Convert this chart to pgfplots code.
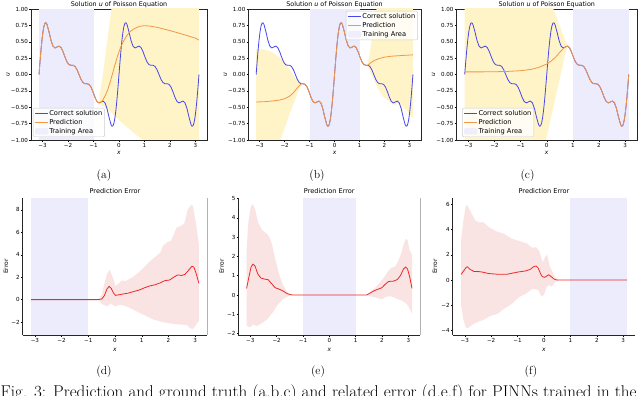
\documentclass[border=0pt]{standalone}
\usepackage{fontspec}
\usepackage{pgfplots}
\pgfplotsset{compat=1.18}
\usepackage{pgfplotstable}
\newfontfamily\dv{DejaVu Sans}
\definecolor{lav}{RGB}{236,236,252}
\definecolor{yel}{RGB}{255,243,200}
\definecolor{pinkb}{RGB}{250,227,227}
\definecolor{blu}{RGB}{70,70,235}
\definecolor{ora}{RGB}{243,150,70}
\definecolor{redl}{RGB}{238,40,40}

\pgfplotstableread{
x u
-3.1416 0
-3.1023 0.1942
-3.0631 0.3753
-3.0238 0.5320
-2.9845 0.6552
-2.9453 0.7395
-2.9060 0.7835
-2.8667 0.7895
-2.8274 0.7636
-2.7489 0.6507
-2.6704 0.5203
-2.5918 0.4321
-2.5133 0.4056
-2.4347 0.4198
-2.3562 0.4333
-2.2777 0.4123
-2.1991 0.3495
-2.1206 0.2654
-2.0420 0.1917
-1.9635 0.1507
-1.8850 0.1412
-1.8064 0.1412
-1.7279 0.1235
-1.6493 0.0739
-1.5708 0
-1.4923 -0.0739
-1.4137 -0.1235
-1.3352 -0.1412
-1.2566 -0.1412
-1.1781 -0.1507
-1.0996 -0.1917
-1.0210 -0.2654
-0.9425 -0.3495
-0.8639 -0.4123
-0.7854 -0.4333
-0.7069 -0.4198
-0.6283 -0.4056
-0.5498 -0.4321
-0.4712 -0.5203
-0.3927 -0.6507
-0.3142 -0.7636
-0.2749 -0.7895
-0.2356 -0.7835
-0.1963 -0.7395
-0.1571 -0.6552
-0.1178 -0.5320
-0.0785 -0.3753
-0.0393 -0.1942
0 0
0.0393 0.1942
0.0785 0.3753
0.1178 0.5320
0.1571 0.6552
0.1963 0.7395
0.2356 0.7835
0.2749 0.7895
0.3142 0.7636
0.3927 0.6507
0.4712 0.5203
0.5498 0.4321
0.6283 0.4056
0.7069 0.4198
0.7854 0.4333
0.8639 0.4123
0.9425 0.3495
1.0210 0.2654
1.0996 0.1917
1.1781 0.1507
1.2566 0.1412
1.3352 0.1412
1.4137 0.1235
1.4923 0.0739
1.5708 0
1.6493 -0.0739
1.7279 -0.1235
1.8064 -0.1412
1.8850 -0.1412
1.9635 -0.1507
2.0420 -0.1917
2.1206 -0.2654
2.1991 -0.3495
2.2777 -0.4123
2.3562 -0.4333
2.4347 -0.4198
2.5133 -0.4056
2.5918 -0.4321
2.6704 -0.5203
2.7489 -0.6507
2.8274 -0.7636
2.8667 -0.7895
2.9060 -0.7835
2.9453 -0.7395
2.9845 -0.6552
3.0238 -0.5320
3.0631 -0.3753
3.1023 -0.1942
3.1416 0
}\truesol

\pgfplotsset{
  myline/.style={legend image code/.code={\draw[##1] (0bp,0bp) -- (13bp,0bp);}},
  myarea/.style={legend image code/.code={\fill[##1] (0bp,-2.8bp) rectangle (13bp,2.8bp);}},
  base/.style={scale only axis, xmin=-3.456, xmax=3.456,
    xtick={-3,-2,-1,0,1,2,3}, xticklabels={−3,−2,−1,0,1,2,3},
    tick align=outside, tick pos=left, major tick length=1.8bp,
    tick style={black, line width=0.4bp},
    axis line style={-, black!85, line width=0.45bp},
    ticklabel style={font=\dv\fontsize{5.6}{6.5}\selectfont},
    xticklabel style={inner sep=1bp}, yticklabel style={inner sep=1bp},
    every axis title shift=0pt,
    title style={font=\dv\fontsize{6.4}{7.5}\selectfont, at={(0.5,1)}, anchor=base, yshift=2bp, inner sep=0pt},
    label style={font=\dv\fontsize{6}{7}\selectfont},
    xlabel={\itshape x},
    xlabel style={at={(axis description cs:0.5,0)}, anchor=center, yshift=-13bp},
  },
  top/.style={base, height=131bp, ymin=-1, ymax=1,
    ytick={-1,-0.75,-0.5,-0.25,0,0.25,0.5,0.75,1},
    yticklabels={−1.00,−0.75,−0.50,−0.25,0.00,0.25,0.50,0.75,1.00},
    title={Solution {\itshape u} of Poisson Equation}, ylabel={\itshape u},
    legend cell align=left,
    legend style={font=\dv\fontsize{6.7}{7.5}\selectfont, draw=black!20, line width=0.4bp,
      rounded corners=1.2bp, fill=white, fill opacity=0.8, text opacity=1,
      inner xsep=1.5bp, inner ysep=1.2bp, row sep=0.6bp, nodes={inner sep=0.9bp}},
  },
  bot/.style={base, height=137bp, axis x line*=bottom, axis y line*=left,
    tick align=outside, tick pos=left,
    title={Prediction Error}, ylabel={Error},
    title style={font=\dv\fontsize{6.6}{7.5}\selectfont, yshift=2.5bp},
    xlabel style={yshift=-2bp},
  },
}

\begin{document}
\begin{tikzpicture}
\useasboundingbox (0bp,0bp) rectangle (640bp,396bp);

% ---------------- (a)
\begin{axis}[top, at={(31bp,256bp)}, anchor=south west, width=176bp,
  ylabel style={at={(axis description cs:-0.13,0.5)}, anchor=center},
  legend style={at={(0.011,0.023)}, anchor=south west}]
\addlegendimage{myline, blu, line width=0.8bp}\addlegendentry{Correct solution}
\addlegendimage{myline, ora, line width=0.8bp}\addlegendentry{Prediction}
\addlegendimage{myarea, lav}\addlegendentry{Training Area}
\addplot[forget plot, fill=lav, draw=none] coordinates {(-3.1416,-1) (-1,-1) (-1,1) (-3.1416,1)} -- cycle;
\addplot[forget plot, fill=yel, draw=none] coordinates {
(-0.8,-0.43) (-0.7,-0.18) (-0.6,0.1) (-0.5,0.4) (-0.4,0.7) (-0.3,1.0) (-0.2,1.3) (3.1416,1.5)
(3.1416,-1.5) (1.2,-1.1) (0.95,-1.0) (0.7,-0.93) (0.4,-0.83) (0.1,-0.73) (-0.2,-0.62) (-0.5,-0.52)} -- cycle;
\addplot[forget plot, blu, line width=0.8bp] table[x=x,y=u] {\truesol};
\addplot[forget plot, ora, line width=0.8bp] coordinates {
(-3.1416,0) (-3.1023,0.1942) (-3.0631,0.3753) (-3.0238,0.5320) (-2.9845,0.6552) (-2.9453,0.7395)
(-2.9060,0.7835) (-2.8667,0.7895) (-2.8274,0.7636) (-2.7489,0.6507) (-2.6704,0.5203) (-2.5918,0.4321)
(-2.5133,0.4056) (-2.4347,0.4198) (-2.3562,0.4333) (-2.2777,0.4123) (-2.1991,0.3495) (-2.1206,0.2654)
(-2.0420,0.1917) (-1.9635,0.1507) (-1.8850,0.1412) (-1.8064,0.1412) (-1.7279,0.1235) (-1.6493,0.0739)
(-1.5708,0) (-1.4923,-0.0739) (-1.4137,-0.1235) (-1.3352,-0.1412) (-1.2566,-0.1412) (-1.1781,-0.1507)
(-1.0996,-0.1917) (-1.0210,-0.2654) (-0.9425,-0.3495) (-0.8639,-0.4123) (-0.7854,-0.4333)
(-0.72,-0.425) (-0.65,-0.40) (-0.55,-0.33) (-0.45,-0.24) (-0.35,-0.12) (-0.25,0.02) (-0.15,0.16)
(-0.05,0.29) (0.05,0.40) (0.15,0.49) (0.3,0.59) (0.45,0.66) (0.6,0.70) (0.8,0.735) (1.0,0.745)
(1.2,0.74) (1.5,0.72) (2.0,0.67) (2.5,0.615) (3.0,0.555) (3.1416,0.525)};
\end{axis}

% ---------------- (b)
\begin{axis}[top, at={(248.3bp,256bp)}, anchor=south west, width=172.5bp,
  ylabel style={at={(axis description cs:-0.133,0.5)}, anchor=center},
  legend style={at={(0.983,0.985)}, anchor=north east}]
\addlegendimage{myline, blu, line width=0.8bp}\addlegendentry{Correct solution}
\addlegendimage{myline, ora, line width=0.8bp}\addlegendentry{Prediction}
\addlegendimage{myarea, lav}\addlegendentry{Training Area}
\addplot[forget plot, fill=lav, draw=none] coordinates {(-1,-1) (1,-1) (1,1) (-1,1)} -- cycle;
\addplot[forget plot, fill=yel, draw=none] coordinates {
(-3.1416,0.38) (-3.0,0.39) (-2.8,0.38) (-2.5,0.34) (-2.2,0.26) (-2.0,0.18) (-1.8,0.08) (-1.6,-0.04)
(-1.45,-0.1) (-1.3,-0.14) (-1.45,-0.25) (-1.6,-0.4) (-1.8,-0.6) (-2.0,-0.82) (-2.2,-1.02) (-2.5,-1.4)
(-3.1416,-2.0)} -- cycle;
\addplot[forget plot, fill=yel, draw=none] coordinates {
(1.3,0.13) (1.4,0.3) (1.5,0.55) (1.6,0.8) (1.7,1.05) (1.8,1.3) (3.1416,1.5) (3.1416,-0.66)
(3.0,-0.6) (2.9,-0.55) (2.75,-0.5) (2.6,-0.45) (2.45,-0.46) (2.3,-0.45) (2.15,-0.4) (1.95,-0.34)
(1.75,-0.22) (1.55,-0.06) (1.4,0.06)} -- cycle;
\addplot[forget plot, blu, line width=0.8bp] table[x=x,y=u] {\truesol};
\addplot[forget plot, ora, line width=0.8bp] coordinates {
(-3.1416,-0.42) (-2.8,-0.415) (-2.5,-0.405) (-2.2,-0.39) (-2.0,-0.37) (-1.8,-0.33) (-1.65,-0.28)
(-1.5,-0.21) (-1.3352,-0.1412) (-1.2566,-0.1412) (-1.1781,-0.1507)
(-1.0996,-0.1917) (-1.0210,-0.2654) (-0.9425,-0.3495) (-0.8639,-0.4123) (-0.7854,-0.4333)
(-0.7069,-0.4198) (-0.6283,-0.4056) (-0.5498,-0.4321) (-0.4712,-0.5203) (-0.3927,-0.6507)
(-0.3142,-0.7636) (-0.2749,-0.7895) (-0.2356,-0.7835) (-0.1963,-0.7395) (-0.1571,-0.6552)
(-0.1178,-0.5320) (-0.0785,-0.3753) (-0.0393,-0.1942) (0,0) (0.0393,0.1942) (0.0785,0.3753)
(0.1178,0.5320) (0.1571,0.6552) (0.1963,0.7395) (0.2356,0.7835) (0.2749,0.7895) (0.3142,0.7636)
(0.3927,0.6507) (0.4712,0.5203) (0.5498,0.4321) (0.6283,0.4056) (0.7069,0.4198) (0.7854,0.4333)
(0.8639,0.4123) (0.9425,0.3495) (1.0210,0.2654) (1.0996,0.1917) (1.1781,0.1507) (1.2566,0.1412)
(1.3352,0.1412) (1.45,0.18) (1.6,0.215) (1.8,0.245) (2.0,0.265) (2.3,0.28) (2.7,0.29) (3.1416,0.30)};
\end{axis}

% ---------------- (c)
\begin{axis}[top, at={(456.5bp,256bp)}, anchor=south west, width=180.5bp,
  ylabel style={at={(axis description cs:-0.127,0.5)}, anchor=center},
  legend style={at={(0.031,0.023)}, anchor=south west}]
\addlegendimage{myline, blu, line width=0.8bp}\addlegendentry{Correct solution}
\addlegendimage{myline, ora, line width=0.8bp}\addlegendentry{Prediction}
\addlegendimage{myarea, lav}\addlegendentry{Training Area}
\addplot[forget plot, fill=lav, draw=none] coordinates {(1,-1) (3.1416,-1) (3.1416,1) (1,1)} -- cycle;
\addplot[forget plot, fill=yel, draw=none] coordinates {
(-3.1416,1.5) (0.15,1.5) (0.2,1.06) (0.3,0.95) (0.4,0.85) (0.5,0.74) (0.6,0.63) (0.7,0.52) (0.8,0.44)
(0.7,0.3) (0.6,0.12) (0.45,-0.15) (0.3,-0.42) (0.15,-0.68) (0,-0.95) (-0.1,-1.12) (-3.1416,-1.5)} -- cycle;
\addplot[forget plot, blu, line width=0.8bp] table[x=x,y=u] {\truesol};
\addplot[forget plot, ora, line width=0.8bp] coordinates {
(-3.1416,0.04) (-2.5,0.04) (-2.0,0.042) (-1.5,0.047) (-1.0,0.058) (-0.6,0.078) (-0.3,0.11) (0,0.16)
(0.2,0.215) (0.35,0.27) (0.5,0.34) (0.62,0.39) (0.7069,0.4198) (0.7854,0.4333)
(0.8639,0.4123) (0.9425,0.3495) (1.0210,0.2654) (1.0996,0.1917) (1.1781,0.1507) (1.2566,0.1412)
(1.3352,0.1412) (1.4137,0.1235) (1.4923,0.0739) (1.5708,0) (1.6493,-0.0739) (1.7279,-0.1235)
(1.8064,-0.1412) (1.8850,-0.1412) (1.9635,-0.1507) (2.0420,-0.1917) (2.1206,-0.2654) (2.1991,-0.3495)
(2.2777,-0.4123) (2.3562,-0.4333) (2.4347,-0.4198) (2.5133,-0.4056) (2.5918,-0.4321) (2.6704,-0.5203)
(2.7489,-0.6507) (2.8274,-0.7636) (2.8667,-0.7895) (2.9060,-0.7835) (2.9453,-0.7395) (2.9845,-0.6552)
(3.0238,-0.5320) (3.0631,-0.3753) (3.1023,-0.1942) (3.1416,0)};
\end{axis}

% ---------------- (d)
\begin{axis}[bot, at={(22.7bp,61bp)}, anchor=south west, width=184.6bp,
  ymin=-3.15, ymax=9.05, ytick={-2,0,2,4,6,8}, yticklabels={−2,0,2,4,6,8},
  ylabel style={at={(axis description cs:-0.09,0.5)}, anchor=center}]
\addplot[fill=lav, draw=none] coordinates {(-3.1416,-3.15) (-1,-3.15) (-1,9.05) (-3.1416,9.05)} -- cycle;
\addplot[fill=pinkb, draw=none] coordinates {
(-0.65,0) (-0.5,0.4) (-0.4,1.4) (-0.3,2.3) (-0.2,2.65) (-0.1,2.1) (0.02,1.2) (0.12,1.4) (0.25,1.7)
(0.4,1.65) (0.55,1.85) (0.7,2.05) (0.9,2.45) (1.1,2.9) (1.3,3.4) (1.5,3.8) (1.7,4.2) (1.8,4.8)
(1.95,5.1) (2.1,5.25) (2.2,5.8) (2.3,6.4) (2.45,6.55) (2.6,6.8) (2.72,8.0) (2.85,8.45) (2.92,8.35)
(3.03,6.8) (3.1416,4.9)
(3.1416,-1.9) (3.03,-2.25) (2.92,-2.62) (2.82,-2.55) (2.68,-2.25) (2.5,-2.23) (2.2,-2.17) (1.95,-2.08)
(1.7,-1.95) (1.45,-1.78) (1.2,-1.5) (0.9,-1.15) (0.65,-0.85) (0.4,-0.58) (0.2,-0.45) (0.0,-0.6)
(-0.15,-0.35) (-0.3,-0.6) (-0.45,-0.45)} -- cycle;
\addplot[redl, line width=0.8bp] coordinates {
(-3.1416,0) (-0.65,0) (-0.5,0.05) (-0.4,0.35) (-0.3,0.95) (-0.22,1.18) (-0.14,1.0) (-0.06,0.6)
(0.02,0.38) (0.12,0.42) (0.3,0.5) (0.5,0.58) (0.7,0.72) (0.9,0.85) (1.1,1.05) (1.3,1.22) (1.5,1.32)
(1.7,1.5) (1.85,1.68) (2.05,1.75) (2.2,2.0) (2.35,2.2) (2.5,2.15) (2.62,2.25) (2.75,2.6) (2.88,2.97)
(2.95,2.9) (3.03,2.4) (3.1416,1.45)};
\draw[black!85, line width=0.45bp] (rel axis cs:1,0) -- (rel axis cs:1,1);
\end{axis}

% ---------------- (e)
\begin{axis}[bot, at={(238.3bp,61bp)}, anchor=south west, width=182bp,
  ymin=-2.07, ymax=5.02, ytick={-2,-1,0,1,2,3,4,5}, yticklabels={−2,−1,0,1,2,3,4,5},
  ylabel style={at={(axis description cs:-0.091,0.5)}, anchor=center}]
\addplot[fill=lav, draw=none] coordinates {(-1,-2.07) (1,-2.07) (1,5.02) (-1,5.02)} -- cycle;
\addplot[fill=pinkb, draw=none] coordinates {
(-3.1416,2.3) (-3.08,3.7) (-2.98,4.6) (-2.9,4.7) (-2.82,4.45) (-2.7,3.75) (-2.55,3.35) (-2.4,3.2)
(-2.3,3.05) (-2.19,2.7) (-2.06,1.9) (-1.9,1.05) (-1.75,0.5) (-1.6,0.15) (-1.45,0.02) (-1.37,0)
(-1.55,-0.05) (-1.75,-0.2) (-1.95,-0.48) (-2.15,-0.9) (-2.35,-1.25) (-2.55,-1.45) (-2.75,-1.6)
(-2.9,-1.52) (-3.02,-1.68) (-3.1416,-1.58)} -- cycle;
\addplot[fill=pinkb, draw=none] coordinates {
(1.42,0) (1.6,0.2) (1.8,0.45) (1.95,0.7) (2.1,0.95) (2.2,1.18) (2.35,1.4) (2.5,1.48) (2.6,1.7)
(2.72,2.1) (2.82,2.6) (2.9,2.9) (2.97,2.85) (3.04,2.35) (3.1416,2.1)
(3.1416,-0.98) (3.05,-0.7) (2.95,-0.48) (2.78,-0.3) (2.6,-0.22) (2.45,-0.12) (2.3,-0.05) (2.12,-0.12)
(2.0,-0.22) (1.8,-0.15) (1.6,-0.08)} -- cycle;
\addplot[redl, line width=0.8bp] coordinates {
(-3.1416,0.34) (-3.05,0.95) (-2.97,1.45) (-2.9,1.6) (-2.82,1.5) (-2.72,1.1) (-2.6,0.88) (-2.45,0.82)
(-2.32,0.79) (-2.2,0.6) (-2.06,0.38) (-1.9,0.3) (-1.75,0.2) (-1.6,0.07) (-1.45,0.01) (-1.37,0)
(1.42,0) (1.55,0.1) (1.7,0.22) (1.85,0.3) (2.0,0.38) (2.12,0.55) (2.25,0.7) (2.45,0.72) (2.58,0.8)
(2.7,1.0) (2.82,1.35) (2.9,1.45) (2.97,1.35) (3.06,0.9) (3.1416,0.34)};
\draw[black!85, line width=0.45bp] (rel axis cs:1,0) -- (rel axis cs:1,1);
\end{axis}

% ---------------- (f)
\begin{axis}[bot, at={(452.7bp,61bp)}, anchor=south west, width=182.6bp,
  ymin=-4.34, ymax=6.49, ytick={-4,-2,0,2,4,6}, yticklabels={−4,−2,0,2,4,6},
  ylabel style={at={(axis description cs:-0.097,0.5)}, anchor=center}]
\addplot[fill=lav, draw=none] coordinates {(1,-4.34) (3.1416,-4.34) (3.1416,6.49) (1,6.49)} -- cycle;
\addplot[fill=pinkb, draw=none] coordinates {
(-3.1416,3.1) (-3.05,4.7) (-2.97,5.75) (-2.92,5.95) (-2.8,5.5) (-2.6,4.7) (-2.45,4.55) (-2.3,4.6)
(-2.1,4.2) (-1.8,3.85) (-1.5,3.65) (-1.25,3.3) (-0.95,3.1) (-0.65,2.9) (-0.45,2.55) (-0.3,2.6)
(-0.18,2.3) (-0.05,1.4) (0.05,1.85) (0.12,2.0) (0.22,1.1) (0.35,0.5) (0.45,0.15) (0.55,0)
(0.42,-0.15) (0.3,-0.52) (0.2,-0.4) (0.1,-0.55) (0.0,-1.15) (-0.1,-1.3) (-0.2,-0.85) (-0.3,-0.72)
(-0.45,-0.7) (-0.7,-1.1) (-0.95,-1.35) (-1.2,-1.85) (-1.5,-2.25) (-1.75,-2.65) (-2.05,-2.85)
(-2.3,-3.15) (-2.5,-3.3) (-2.7,-3.5) (-2.85,-3.75) (-2.95,-3.8) (-3.05,-3.15) (-3.1416,-1.95)} -- cycle;
\addplot[redl, line width=0.8bp] coordinates {
(-3.1416,0.45) (-3.05,0.7) (-2.95,1.0) (-2.9,1.05) (-2.8,0.85) (-2.65,0.68) (-2.45,0.67) (-2.3,0.62)
(-2.1,0.52) (-1.8,0.47) (-1.4,0.46) (-1.2,0.55) (-0.95,0.65) (-0.7,0.72) (-0.52,0.85) (-0.4,1.05)
(-0.3,1.12) (-0.22,0.95) (-0.14,0.55) (-0.07,0.28) (0.03,0.22) (0.12,0.35) (0.18,0.42) (0.27,0.28)
(0.38,0.08) (0.48,0.01) (0.55,0) (3.1416,0)};
\end{axis}

% ---------------- panel labels and caption
\node[font=\fontsize{11.7}{13}\selectfont] at (104bp,220bp) {(a)};
\node[font=\fontsize{11.7}{13}\selectfont] at (317bp,220bp) {(b)};
\node[font=\fontsize{11.7}{13}\selectfont] at (527.5bp,220bp) {(c)};
\node[font=\fontsize{11.7}{13}\selectfont] at (104bp,24bp) {(d)};
\node[font=\fontsize{11.7}{13}\selectfont] at (318bp,24bp) {(e)};
\node[font=\fontsize{11.7}{13}\selectfont] at (531bp,24bp) {(f)};
\node[anchor=base west, inner sep=0pt, font=\fontsize{17.1}{19}\selectfont] at (0.5bp,-1.5bp)
  {Fig. 3: Prediction and ground truth (a,b,c) and related error (d,e,f) for PINNs trained in the};
\end{tikzpicture}
\end{document}
